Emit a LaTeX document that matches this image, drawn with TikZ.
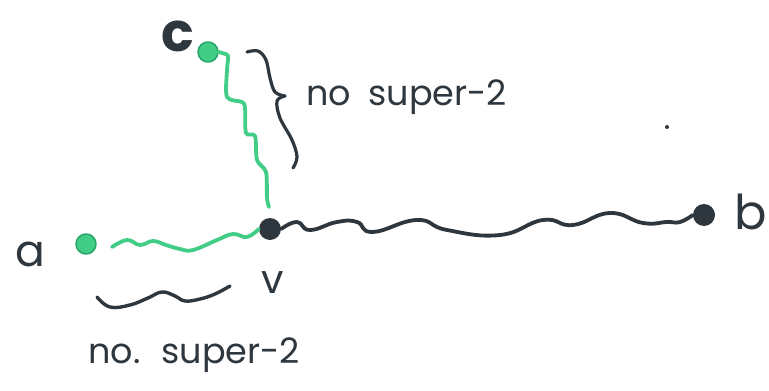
\documentclass[tikz,border=0pt]{standalone}
\usepackage{fontspec}
\setmainfont{Poppins}
\begin{document}
\begin{tikzpicture}[x=1pt,y=-1pt,line cap=round,line join=round]
\definecolor{ink}{RGB}{46,54,62}
\definecolor{mint}{RGB}{66,205,135}
\definecolor{mintdark}{RGB}{40,165,105}
\tikzset{
  gdot/.style={circle,fill=mint,draw=mintdark,line width=1.5pt,minimum size=20pt,inner sep=0pt},
  kdot/.style={circle,fill=ink,minimum size=22pt,inner sep=0pt},
  gwave/.style={draw=mint,line width=3.8pt},
  kwave/.style={draw=ink,line width=3.8pt},
  hand/.style={text=ink,font=\fontsize{35}{38}\selectfont,inner sep=0pt},
  bigletter/.style={text=ink,font=\fontsize{48}{52}\selectfont,inner sep=0pt},
}
\useasboundingbox[fill=white] (0,0) rectangle (769,391);

% vertices
\node[gdot] (c) at (208,52) {};
\node[kdot] (v) at (270,229) {};
\node[gdot] (a) at (86,244) {};
\node[kdot] (b) at (704,215) {};

% vertex labels
\node[bigletter,font=\fontsize{54}{58}\selectfont\bfseries] (lc) at (178,36) {c};
\node[hand,font=\fontsize{44}{48}\selectfont] (la) at (30,254) {a};
\node[hand,font=\fontsize{40}{44}\selectfont] (lv) at (273,283) {v};
\node[bigletter,anchor=east] (lb) at (767,212) {b};

% free ends of the paths
\coordinate (cend) at (269,207);
\coordinate (astart) at (112,247);

% green path from c down to v
\draw[gwave] plot[smooth,tension=0.5] coordinates {(c.east) (222,53) (228,56) (227,70) (227,97) (242,102) (245,108) (246,133) (255,136) (257,160) (266,172) (267,198) (cend)};

% green path from a to v
\draw[gwave] plot[smooth,tension=0.7] coordinates {(astart) (127,240) (140,245) (153,241) (166,245) (180,249) (193,250) (217,240) (233,234) (247,237) (v.west)};

% black path from v to b
\draw[kwave] plot[smooth,tension=0.8] coordinates {(v.east) (297,222) (310,230) (337,222) (357,222) (373,232) (417,220) (447,230) (500,235) (543,220) (573,225) (610,213) (643,223) (667,222) (680,222) (b.west)};

% brace beside the c--v path
\coordinate (bt) at (247,52);
\coordinate (bb) at (293,168);
\draw[kwave,line width=3.2pt] plot[smooth,tension=0.6] coordinates {(bt) (258,51) (266,60) (270,78) (275,92) (285,96)};
\draw[kwave,line width=3.2pt] plot[smooth,tension=0.6] coordinates {(285,96) (277,101) (280,118) (292,140) (297,157) (bb)};
\node[hand,anchor=west] (t1) at (306,97) {no\hspace{0.5em}super-2};

% brace under the a--v path
\draw[kwave,line width=3.4pt] plot[smooth,tension=0.7] coordinates {(97,297) (110,307) (130,305) (148,298) (162,292) (175,296) (185,301) (200,299) (215,294) (230,286)};
\node[hand,anchor=west] (t2) at (88,355) {no.\hspace{0.6em}super-2};

% stray marker dot
\fill[ink] (667,127) circle (2);
\end{tikzpicture}
\end{document}
